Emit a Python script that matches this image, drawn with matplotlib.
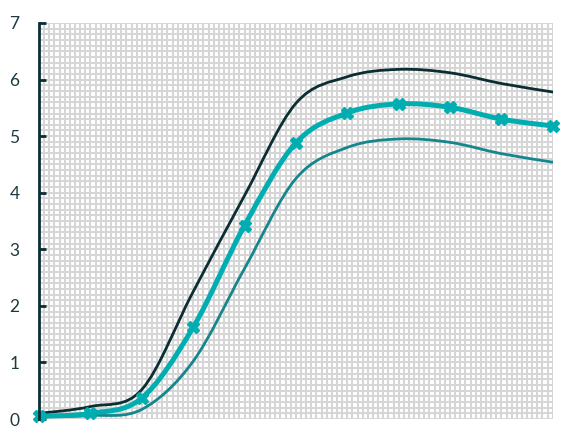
import matplotlib
matplotlib.use("Agg")
import matplotlib.pyplot as plt
from matplotlib.path import Path
from matplotlib.patches import PathPatch
from matplotlib.ticker import MultipleLocator

# values, one per x step
x_vals = [0, 1, 2, 3, 4, 5, 6, 7, 8, 9, 10]
upper = [0.10, 0.22, 0.52, 2.25, 3.95, 5.58, 6.05, 6.18, 6.12, 5.93, 5.78]
mean = [0.05, 0.10, 0.37, 1.62, 3.42, 4.88, 5.41, 5.57, 5.51, 5.30, 5.18]
lower = [0.04, 0.06, 0.17, 1.02, 2.66, 4.25, 4.80, 4.95, 4.89, 4.69, 4.54]
y_ticks = [0, 1, 2, 3, 4, 5, 6, 7]

DARK = "#0b2e33"
TEAL = "#00adb0"
MID_TEAL = "#15868c"
GRID = "#d6d6d6"


def smooth_path(xs, ys):
    """Excel-style smoothed line as cubic Bezier segments."""
    pts = list(zip(xs, ys))
    verts = [pts[0]]
    codes = [Path.MOVETO]
    n = len(pts)
    for i in range(n - 1):
        p0 = pts[i - 1] if i > 0 else pts[i]
        p1 = pts[i]
        p2 = pts[i + 1]
        p3 = pts[i + 2] if i + 2 < n else pts[i + 1]
        c1 = (p1[0] + (p2[0] - p0[0]) / 6, p1[1] + (p2[1] - p0[1]) / 6)
        c2 = (p2[0] - (p3[0] - p1[0]) / 6, p2[1] - (p3[1] - p1[1]) / 6)
        verts += [c1, c2, p2]
        codes += [Path.CURVE4] * 3
    return Path(verts, codes)


def add_curve(ax, xs, ys, color, lw, z):
    patch = PathPatch(smooth_path(xs, ys), facecolor="none", edgecolor=color,
                      linewidth=lw, capstyle="round", joinstyle="round", zorder=z)
    ax.add_patch(patch)


fig = plt.figure(figsize=(5.74, 4.42), dpi=100)
ax = fig.add_axes([0.068, 0.052, 0.895, 0.896])

ax.set_xlim(0, 10)
ax.set_ylim(0, 7)

ax.xaxis.set_minor_locator(MultipleLocator(0.1))
ax.yaxis.set_minor_locator(MultipleLocator(0.1))
ax.xaxis.set_major_locator(MultipleLocator(1))
ax.set_yticks(y_ticks)
ax.grid(True, which="both", color=GRID, linewidth=1.45)
ax.set_axisbelow(True)

add_curve(ax, x_vals, upper, DARK, 2.0, 3)
add_curve(ax, x_vals, lower, MID_TEAL, 2.0, 3)
add_curve(ax, x_vals, mean, TEAL, 3.6, 4)
ax.plot(x_vals, mean, linestyle="none", marker="X", markersize=9,
        color=TEAL, zorder=5, clip_on=False)

for side in ["top", "right", "bottom"]:
    ax.spines[side].set_visible(False)
ax.spines["left"].set_color(DARK)
ax.spines["left"].set_linewidth(2)
ax.spines["left"].set_zorder(6)

ax.tick_params(axis="y", which="major", direction="in", length=5, width=2,
               color=DARK, labelcolor="#1c3a40", labelsize=12.5, pad=14)
ax.tick_params(axis="y", which="minor", length=0)
ax.tick_params(axis="x", which="both", length=0, labelbottom=False)
for lbl in ax.get_yticklabels():
    lbl.set_family(["Lato", "DejaVu Sans"])

fig.savefig("out.png", dpi=100)
